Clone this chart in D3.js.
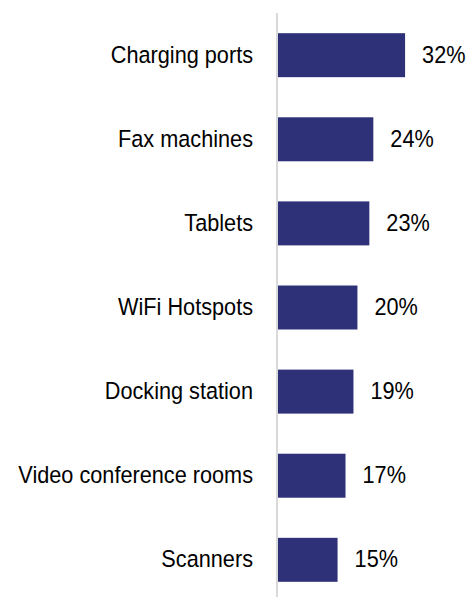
<!DOCTYPE html>
<html>
<head>
<meta charset="utf-8">
<script src="https://cdn.jsdelivr.net/npm/d3@7"></script>
<style>
  body { margin: 0; background: #fff; }
  text { font-family: "Liberation Sans", Arial, sans-serif; fill: #000; }
</style>
</head>
<body>
<svg id="chart" width="466" height="597"></svg>
<script>
// chart data
const categories = ['Charging ports', 'Fax machines', 'Tablets', 'WiFi Hotspots',
  'Docking station', 'Video conference rooms', 'Scanners'];
const values = [32, 24, 23, 20, 19, 17, 15];

const width = 466;
const height = 597;
const axisX = 278;
const fontSize = 23.5;
const squeeze = 0.923; // reference font is a bit narrow

const svg = d3.select('#chart');

const y = d3
  .scaleBand()
  .domain(categories)
  .range([13, 602])
  .paddingInner(0.477)
  .paddingOuter(0.24);

const x = d3
  .scaleLinear()
  .domain([0, 35])
  .range([axisX, axisX + 139]);

// bars
svg
  .append('g')
  .selectAll('rect')
  .data(values)
  .join('rect')
  .attr('x', x(0))
  .attr('y', (d, i) => y(categories[i]))
  .attr('width', (d) => x(d) - x(0))
  .attr('height', y.bandwidth())
  .attr('fill', '#2e3178');

// value labels
svg
  .append('g')
  .selectAll('text')
  .data(values)
  .join('text')
  .attr('transform', (d, i) =>
    `translate(${x(d) + 17},${y(categories[i]) + y.bandwidth() / 2}) scale(${squeeze},1)`)
  .attr('dy', '0.32em')
  .attr('font-size', fontSize)
  .text((d) => d + '%');

// category axis
const yAxis = (g) =>
  g
    .attr('transform', `translate(${axisX - 1},0)`)
    .call(d3.axisLeft(y).tickSize(0))
    .call((g) => g.select('.domain').remove())
    .call((g) =>
      g.selectAll('text')
        .attr('x', -24 / squeeze)
        .attr('dy', '0.32em')
        .attr('transform', `scale(${squeeze},1)`)
        .attr('font-size', fontSize)
        .attr('font-family', '"Liberation Sans", Arial, sans-serif')
        .attr('fill', '#000')
    );

svg.append('g').call(yAxis);

// vertical baseline
svg
  .append('line')
  .attr('x1', axisX - 1)
  .attr('x2', axisX - 1)
  .attr('y1', 13)
  .attr('y2', height)
  .attr('stroke', '#d9d9d9')
  .attr('stroke-width', 2);
</script>
</body>
</html>
